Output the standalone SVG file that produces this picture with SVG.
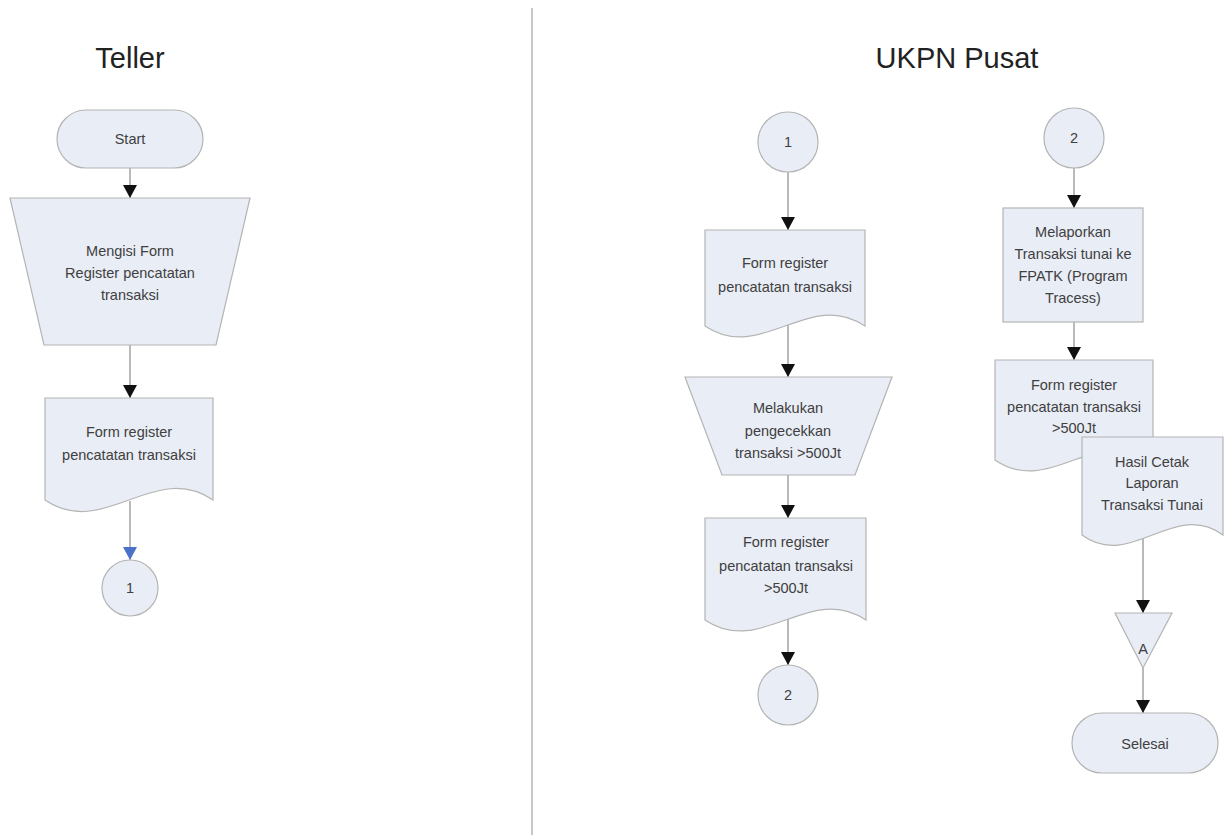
<svg xmlns="http://www.w3.org/2000/svg" width="1225" height="835" viewBox="0 0 1225 835">
<style>
.shape{fill:#e9edf6;stroke:#b4b4b4;stroke-width:1.2}
.t{font-family:"Liberation Sans",Arial,sans-serif;font-size:14.5px;fill:#404040;text-anchor:middle}
.title{font-family:"Liberation Sans",Arial,sans-serif;font-size:29px;fill:#222;text-anchor:middle}
.conn{stroke:#8c8c8c;stroke-width:1.2;fill:none}
</style>
<defs>
<marker id="ah" markerUnits="userSpaceOnUse" markerWidth="14" markerHeight="14" refX="13" refY="7" orient="auto">
<path d="M0,0 L13,7 L0,14 z" fill="#111"/>
</marker>
<marker id="ahb" markerUnits="userSpaceOnUse" markerWidth="14" markerHeight="14" refX="13" refY="7" orient="auto">
<path d="M0,0 L13,7 L0,14 z" fill="#4a72c8"/>
</marker>
</defs>
<rect x="0" y="0" width="1225" height="835" fill="#ffffff"/>
<line x1="532" y1="8" x2="532" y2="835" stroke="#c8c8c8" stroke-width="2"/>
<text class="title" x="130" y="68">Teller</text>
<text class="title" x="957" y="68">UKPN Pusat</text>

<g id="connectors">
<line class="conn" x1="130" y1="168" x2="130" y2="198" marker-end="url(#ah)"/>
<line class="conn" x1="130" y1="345" x2="130" y2="398" marker-end="url(#ah)"/>
<line class="conn" x1="130" y1="501" x2="130" y2="560" marker-end="url(#ahb)"/>
<line class="conn" x1="788" y1="325" x2="788" y2="377" marker-end="url(#ah)"/>
<line class="conn" x1="788" y1="172" x2="788" y2="230" marker-end="url(#ah)"/>
<line class="conn" x1="788" y1="475" x2="788" y2="518" marker-end="url(#ah)"/>
<line class="conn" x1="788" y1="619" x2="788" y2="665" marker-end="url(#ah)"/>
<line class="conn" x1="1074" y1="168" x2="1074" y2="208" marker-end="url(#ah)"/>
<line class="conn" x1="1074" y1="322" x2="1074" y2="360" marker-end="url(#ah)"/>
<line class="conn" x1="1143" y1="537" x2="1143" y2="613" marker-end="url(#ah)"/>
<line class="conn" x1="1143" y1="668" x2="1143" y2="713" marker-end="url(#ah)"/>
</g>

<g id="start">
<rect class="shape" x="57" y="110" width="146" height="58" rx="29" ry="29"/>
<text class="t" x="130" y="144">Start</text>
</g>
<g id="mengisi-form">
<path class="shape" d="M10,198 L250,198 L216,345 L44,345 Z"/>
<text class="t" x="130" y="256">Mengisi Form</text>
<text class="t" x="130" y="278">Register pencatatan</text>
<text class="t" x="130" y="300">transaksi</text>
</g>
<g id="doc-teller">
<path class="shape" d="M45,398 L213,398 L213,500 C154,460 104,540 45,500 Z"/>
<text class="t" x="129" y="437">Form register</text>
<text class="t" x="129" y="460">pencatatan transaksi</text>
</g>
<g id="conn1-teller">
<circle class="shape" cx="130" cy="588" r="28"/>
<text class="t" x="130" y="593">1</text>
</g>

<g id="conn1-ukpn">
<circle class="shape" cx="788" cy="142" r="30"/>
<text class="t" x="788" y="147">1</text>
</g>
<g id="doc-ukpn-1">
<path class="shape" d="M705,230 L865,230 L865,326 C809,288 761,364 705,326 Z"/>
<text class="t" x="785" y="268">Form register</text>
<text class="t" x="785" y="292">pencatatan transaksi</text>
</g>
<g id="pengecekkan">
<path class="shape" d="M685,377 L892,377 L855,475 L722,475 Z"/>
<text class="t" x="788" y="413">Melakukan</text>
<text class="t" x="788" y="436">pengecekkan</text>
<text class="t" x="788" y="458">transaksi &gt;500Jt</text>
</g>
<g id="doc-ukpn-2">
<path class="shape" d="M705,518 L866,518 L866,620 C810,582 761,658 705,620 Z"/>
<text class="t" x="786" y="547">Form register</text>
<text class="t" x="786" y="571">pencatatan transaksi</text>
<text class="t" x="786" y="593">&gt;500Jt</text>
</g>
<g id="conn2-ukpn">
<circle class="shape" cx="788" cy="695" r="30"/>
<text class="t" x="788" y="700">2</text>
</g>

<g id="conn2-top">
<circle class="shape" cx="1074" cy="138" r="30"/>
<text class="t" x="1074" y="143">2</text>
</g>
<g id="melaporkan">
<rect class="shape" x="1003" y="208" width="140" height="114"/>
<text class="t" x="1073" y="237">Melaporkan</text>
<text class="t" x="1073" y="259">Transaksi tunai ke</text>
<text class="t" x="1073" y="281">FPATK (Program</text>
<text class="t" x="1073" y="303">Tracess)</text>
</g>
<g id="doc-ukpn-3">
<path class="shape" d="M995,360 L1153,360 L1153,460 C1098,422 1050,498 995,460 Z"/>
<text class="t" x="1074" y="390">Form register</text>
<text class="t" x="1074" y="412">pencatatan transaksi</text>
<text class="t" x="1074" y="433">&gt;500Jt</text>
</g>
<g id="hasil-cetak">
<path class="shape" d="M1082,437 L1223,437 L1223,535 C1174,499 1131,571 1082,535 Z"/>
<text class="t" x="1152" y="467">Hasil Cetak</text>
<text class="t" x="1152" y="488">Laporan</text>
<text class="t" x="1152" y="510">Transaksi Tunai</text>
</g>
<g id="offpage-a">
<path class="shape" d="M1115,613 L1172,613 L1143,668 Z"/>
<text class="t" x="1143" y="654">A</text>
</g>
<g id="selesai">
<rect class="shape" x="1072" y="713" width="146" height="60" rx="30" ry="30"/>
<text class="t" x="1145" y="749">Selesai</text>
</g>
</svg>
